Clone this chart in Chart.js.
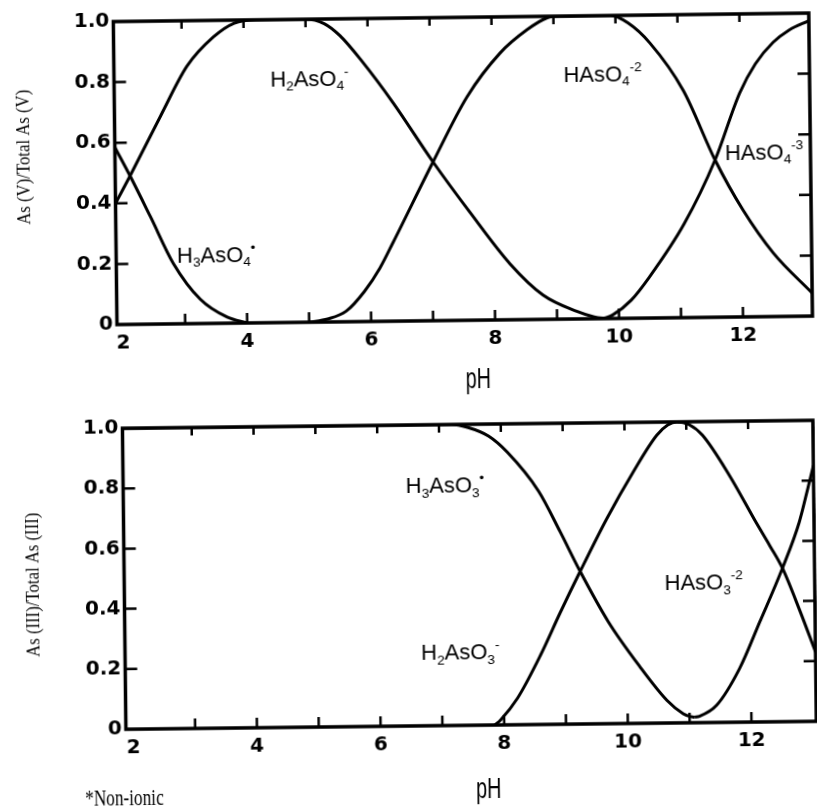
<!DOCTYPE html>
<html>
<head>
<meta charset="utf-8">
<title>Arsenic speciation vs pH</title>
<script src="https://cdn.jsdelivr.net/npm/chart.js@4.4.1/dist/chart.umd.min.js"></script>
<style>
  html, body { margin: 0; padding: 0; background: #fff; overflow: hidden; }
  .panel { position: absolute; left: 0; width: 817px; transform-origin: 50% 50%; }
  /* the scanned figure sits slightly tilted */
  #top { top: 0; height: 400px; transform: rotate(-0.7deg); }
  #bottom { top: 400px; height: 411px; transform: rotate(-0.66deg); }
</style>
</head>
<body>
<div class="panel" id="top"><canvas id="asV" width="817" height="400"></canvas></div>
<div class="panel" id="bottom"><canvas id="asIII" width="817" height="411"></canvas></div>
<script>
// values, [pH, fraction]
// As(V), top panel
const h3aso4 = [[1.9,0.585],[2.14,0.49],[2.46,0.355],[2.82,0.2],[3.25,0.08],[3.68,0.02],[4.0,0.0]];
const h2aso4 = [[1.9,0.4],[2.14,0.49],[2.64,0.685],[3.08,0.85],[3.51,0.945],[3.85,0.99],[4.2,1.0],[5.0,1.0],
                [5.3,0.985],[5.55,0.945],[5.9,0.86],[6.4,0.72],[7.03,0.524],[7.62,0.355],[8.25,0.185],[8.78,0.08],
                [9.32,0.025],[9.6,0.006],[9.8,0.0]];
const haso4 = [[5.0,0.0],[5.3,0.01],[5.6,0.035],[5.9,0.1],[6.15,0.175],[6.37,0.26],[7.03,0.524],[7.59,0.737],
               [8.13,0.88],[8.57,0.956],[8.9,0.995],[9.1,1.0],[9.92,1.0],[10.2,0.975],[10.55,0.908],[11.08,0.75],
               [11.58,0.519],[12.02,0.353],[12.5,0.21],[13.12,0.076]];
const aso4 = [[9.75,0.0],[9.9,0.012],[10.2,0.06],[10.5,0.136],[11.07,0.31],[11.58,0.519],[11.99,0.739],
              [12.25,0.835],[12.54,0.905],[12.8,0.945],[13.12,0.975]];

// As(III), bottom panel
const h3aso3 = [[1.88,1.0],[7.2,1.0],[7.46,0.99],[7.8,0.96],[8.1,0.906],[8.6,0.775],[8.94,0.64],[9.25,0.51],
                [9.7,0.34],[10.2,0.19],[10.64,0.075],[10.9,0.03],[11.0,0.021],[11.08,0.018]];
const haso3 = [[11.08,0.018],[11.16,0.021],[11.44,0.057],[11.82,0.179],[12.15,0.331],[12.53,0.51],[12.81,0.662],
               [12.98,0.794],[13.05,0.85]];
const h2aso3 = [[7.85,0.0],[7.94,0.016],[8.22,0.088],[8.6,0.23],[8.93,0.372],[9.25,0.504],[9.7,0.682],[10.13,0.834],
                [10.52,0.956],[10.7,0.99],[10.85,1.0],[11.05,0.99],[11.26,0.955],[11.69,0.82],[12.12,0.66],[12.33,0.585],
                [12.53,0.51],[12.8,0.37],[13.05,0.23]];

// axis ticks
const xLabels = [2, 4, 6, 8, 10, 12];
const xTickMarks = [3, 4, 5, 6, 7, 8, 9, 10, 11, 12];
const yTickMarks = [0.2, 0.4, 0.6, 0.8];

const tickFont = { family: "'DejaVu Sans', sans-serif", size: 20, weight: 'bold' };

// inward ticks on all four sides + heavy box
const framePlugin = {
  id: 'frame',
  afterDatasetsDraw(chart) {
    const { ctx, chartArea: a, scales: { x, y } } = chart;
    ctx.save();
    ctx.strokeStyle = '#000';
    ctx.lineWidth = 2.5;
    ctx.beginPath();
    xTickMarks.forEach(v => {
      const px = x.getPixelForValue(v);
      if (px <= a.left || px >= a.right) return;
      ctx.moveTo(px, a.bottom); ctx.lineTo(px, a.bottom - 10);
      ctx.moveTo(px, a.top); ctx.lineTo(px, a.top + 8);
    });
    yTickMarks.forEach(v => {
      const py = y.getPixelForValue(v);
      ctx.moveTo(a.left, py); ctx.lineTo(a.left + 12, py);
      ctx.moveTo(a.right, py); ctx.lineTo(a.right - 12, py);
    });
    ctx.stroke();
    ctx.lineWidth = 3.5;
    ctx.strokeRect(a.left, a.top, a.right - a.left, a.bottom - a.top);
    ctx.restore();
  }
};

// '_' makes the next char a subscript, '^' makes the rest a superscript
function drawSpecies(ctx, text, x, y, size) {
  let i = 0, cx = x;
  while (i < text.length) {
    let ch = text[i], mode = 'n';
    if (ch === '_') { mode = 'sub'; ch = text[i + 1]; i += 2; }
    else if (ch === '^') { mode = 'sup'; ch = text.slice(i + 1); i = text.length; }
    else i++;
    const s = mode === 'n' ? size : size * 0.62;
    ctx.font = s + "px 'Liberation Sans', Arial, sans-serif";
    const dy = mode === 'sub' ? size * 0.2 : mode === 'sup' ? -size * 0.45 : 0;
    ctx.fillText(ch, cx, y + dy);
    cx += ctx.measureText(ch).width;
  }
}

function drawNarrow(ctx, text, x, y, font, sx, rot, baseline) {
  ctx.save();
  ctx.translate(x, y);
  if (rot) ctx.rotate(rot);
  ctx.scale(sx, 1);
  ctx.font = font;
  ctx.textAlign = 'center';
  ctx.textBaseline = baseline;
  ctx.fillText(text, 0, 0);
  ctx.restore();
}

const textPlugin = {
  id: 'panelText',
  afterDraw(chart, args, o) {
    const { ctx, chartArea: a, scales: { x, y } } = chart;
    ctx.save();
    ctx.fillStyle = '#000';
    ctx.textAlign = 'left';
    ctx.textBaseline = 'alphabetic';
    o.species.forEach(s => drawSpecies(ctx, s[0], x.getPixelForValue(s[1]), y.getPixelForValue(s[2]), 22));
    drawNarrow(ctx, o.yTitle, o.yTitleX, (a.top + a.bottom) / 2 + o.yTitleDy,
               "18px 'Liberation Serif', 'Times New Roman', serif", 0.93, -Math.PI / 2, 'middle');
    drawNarrow(ctx, 'pH', (a.left + a.right) / 2 + o.phDx, o.phBaseline,
               "30px 'Liberation Sans', Arial, sans-serif", 0.66, 0, 'alphabetic');
    if (o.footnote) {
      ctx.save();
      ctx.translate(o.footnote.x, o.footnote.y);
      ctx.scale(0.75, 1);
      ctx.font = "23px 'Liberation Serif', 'Times New Roman', serif";
      ctx.textAlign = 'left';
      ctx.fillText(o.footnote.text, 0, 0);
      ctx.restore();
    }
    ctx.restore();
  }
};

function curve(label, pts) {
  return {
    label: label,
    data: pts.map(p => ({ x: p[0], y: p[1] })),
    borderColor: '#000',
    borderWidth: 3,
    pointRadius: 0,
    fill: false,
    cubicInterpolationMode: 'monotone'
  };
}

function panel(canvasId, datasets, p) {
  return new Chart(document.getElementById(canvasId), {
    type: 'line',
    data: { datasets: datasets },
    plugins: [framePlugin, textPlugin],
    options: {
      responsive: false,
      animation: false,
      layout: { padding: { top: p.top, right: p.right, left: 0, bottom: 0 } },
      plugins: {
        legend: { display: false },
        tooltip: { enabled: false },
        panelText: p.text
      },
      scales: {
        x: {
          type: 'linear', min: p.xMin, max: p.xMax,
          grid: { display: false, drawTicks: false },
          border: { display: false },
          ticks: { font: tickFont, color: '#000', padding: 7, autoSkip: false, maxRotation: 0 },
          afterBuildTicks: s => { s.ticks = xLabels.map(v => ({ value: v })); },
          afterFit: s => { s.height = p.xAxisH; }
        },
        y: {
          min: 0, max: 1,
          grid: { display: false, drawTicks: false },
          border: { display: false },
          ticks: {
            stepSize: 0.2, font: tickFont, color: '#000', padding: 4,
            callback: v => v === 0 ? '0' : (Math.round(v * 10) / 10).toFixed(1)
          },
          afterFit: s => { s.width = p.left; }
        }
      }
    }
  });
}

panel('asV', [
  curve('H3AsO4', h3aso4), curve('H2AsO4-', h2aso4), curve('HAsO4-2', haso4), curve('AsO4-3', aso4)
], {
  left: 115.5, right: 6, top: 18, xAxisH: 79, xMin: 1.9, xMax: 13.12,
  text: {
    species: [['H_2AsO_4^-', 4.42, 0.779], ['H_3AsO_4^•', 2.88, 0.202], ['HAsO_4^-2', 9.15, 0.783], ['HAsO_4^-3', 11.74, 0.518]],
    yTitle: 'As (V)/Total As (V)', yTitleX: 25.5, yTitleDy: -17,
    phDx: 13, phBaseline: 389
  }
});

panel('asIII', [
  curve('H3AsO3', h3aso3), curve('HAsO3-2', haso3), curve('H2AsO3-', h2aso3)
], {
  left: 124.5, right: 2, top: 25, xAxisH: 85, xMin: 1.88, xMax: 13.05,
  text: {
    species: [['H_3AsO_3^•', 6.45, 0.773], ['H_2AsO_3^-', 6.67, 0.218], ['HAsO_3^-2', 10.62, 0.441]],
    yTitle: 'As (III)/Total As (III)', yTitleX: 34, yTitleDy: 5,
    phDx: 17, phBaseline: 399,
    footnote: { text: '*Non-ionic', x: 83, y: 402 }
  }
});
</script>
</body>
</html>
